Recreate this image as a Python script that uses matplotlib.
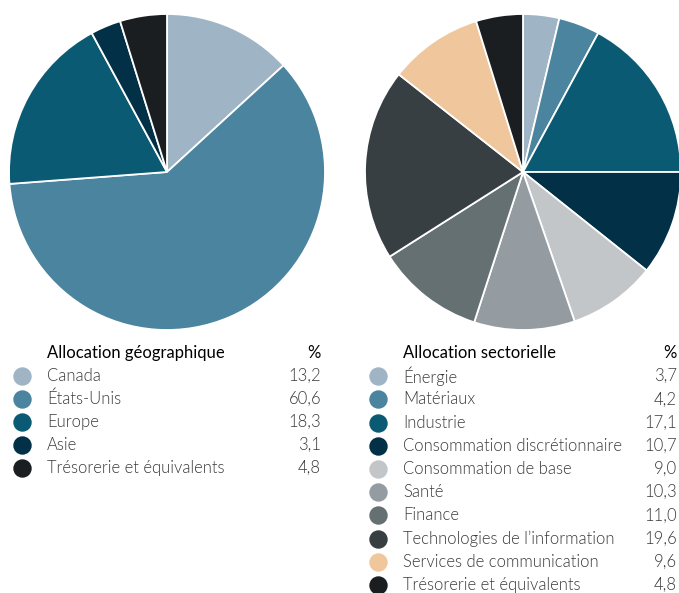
import matplotlib.pyplot as plt

plt.rcParams['font.family'] = ['Lato', 'DejaVu Sans']

# Data
geo_labels = ['Canada', 'États-Unis', 'Europe', 'Asie', 'Trésorerie et équivalents']
geo_values = [13.2, 60.6, 18.3, 3.1, 4.8]
geo_colors = ['#9fb5c5', '#4a849f', '#0a5a74', '#013047', '#1a1e21']

sec_labels = ['Énergie', 'Matériaux', 'Industrie', 'Consommation discrétionnaire',
              'Consommation de base', 'Santé', 'Finance',
              'Technologies de l\u2019information', 'Services de communication',
              'Trésorerie et équivalents']
sec_values = [3.7, 4.2, 17.1, 10.7, 9.0, 10.3, 11.0, 19.6, 9.6, 4.8]
sec_colors = ['#9fb5c5', '#4a849f', '#0a5a74', '#013047', '#c3c6c9',
              '#959ca1', '#657073', '#373f42', '#f0c69c', '#1a1e21']

W, H = 679, 593
fig = plt.figure(figsize=(W / 100, H / 100), dpi=100)


def pie_axes(cx, cy, r):
    ax = fig.add_axes([(cx - r) / W, (H - cy - r) / H, 2 * r / W, 2 * r / H])
    return ax


for (cx, vals, cols) in [(167, geo_values, geo_colors), (523, sec_values, sec_colors)]:
    ax = pie_axes(cx, 172, 158)
    ax.pie(vals, colors=cols, startangle=90, counterclock=False, radius=1,
           wedgeprops=dict(edgecolor='white', linewidth=1.3))
    ax.set_xlim(-1, 1)
    ax.set_ylim(-1, 1)
    ax.set_aspect('equal')
    ax.axis('off')

# Overlay for legends, in pixel coordinates
lax = fig.add_axes([0, 0, 1, 1])
lax.set_xlim(0, W)
lax.set_ylim(H, 0)
lax.axis('off')


def legend_table(x0, y0, step, xval, title, labels, values, colors):
    lax.text(x0 + 25, y0, title, fontsize=12, fontweight='normal', color='#000000',
             ha='left', va='center')
    lax.text(xval, y0, '%', fontsize=12, fontweight='normal', color='#000000',
             ha='right', va='center')
    for i, (lab, v, c) in enumerate(zip(labels, values, colors)):
        y = y0 + step * (i + 1)
        lax.scatter([x0], [y], s=150, color=c, clip_on=False)
        lax.text(x0 + 25, y, lab, fontsize=12, fontweight=300, color='#3a3a3a',
                 ha='left', va='center')
        lax.text(xval, y, f'{v:.1f}'.replace('.', ','), fontsize=12, fontweight=300,
                 color='#3a3a3a', ha='right', va='center')


legend_table(22, 353, 23, 321, 'Allocation géographique', geo_labels, geo_values, geo_colors)
legend_table(378, 353, 23.2, 677, 'Allocation sectorielle', sec_labels, sec_values, sec_colors)

fig.savefig('out.png', dpi=100)
